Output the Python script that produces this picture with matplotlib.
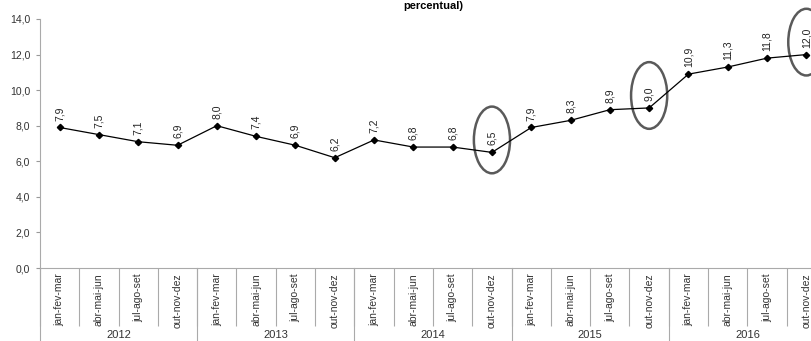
import matplotlib
matplotlib.use("Agg")
import matplotlib.pyplot as plt
from matplotlib.patches import Ellipse
from matplotlib.transforms import blended_transform_factory

years = ["2012", "2013", "2014", "2015", "2016"]
quarters = ["jan-fev-mar", "abr-mai-jun", "jul-ago-set", "out-nov-dez"]
values = [7.9, 7.5, 7.1, 6.9,
          8.0, 7.4, 6.9, 6.2,
          7.2, 6.8, 6.8, 6.5,
          7.9, 8.3, 8.9, 9.0,
          10.9, 11.3, 11.8, 12.0]
highlighted = [11, 15, 19]
title = "percentual)"

plt.rcParams['font.family'] = ['Liberation Sans', 'DejaVu Sans']

W, H = 812, 341
fig = plt.figure(figsize=(W / 100, H / 100), dpi=100)
ax = fig.add_axes([40 / W, 73 / H, 786 / W, 249 / H])

n = len(values)
x = list(range(n))
ax.plot(x, values, color="black", lw=0.9, marker="D", ms=3.2, mfc="black", mec="black")

for xi, v in zip(x, values):
    ax.annotate(f"{v:.1f}".replace(".", ","), (xi, v), xytext=(0, 5),
                textcoords="offset points", rotation=90, ha="center", va="bottom",
                fontsize=7.5, color="#222222")

for i in highlighted:
    ax.add_patch(Ellipse((i, values[i] + 0.7), width=0.92, height=3.75,
                         fill=False, edgecolor="#5a5a5a", lw=1.8, clip_on=False))

ax.set_xlim(-0.5, n - 0.5)
ax.set_ylim(0, 14)
yt = [0, 2, 4, 6, 8, 10, 12, 14]
ax.set_yticks(yt)
ax.set_yticklabels([f"{t:.1f}".replace(".", ",") for t in yt], fontsize=7.5, color="#333333")
ax.tick_params(axis="y", length=3, color="#999999", pad=4)

labels = [q for _ in years for q in quarters]
ax.set_xticks(x)
ax.set_xticklabels(labels, rotation=90, fontsize=7.5, color="#333333", va="top")
ax.tick_params(axis="x", which="major", length=0, pad=4)
ax.set_xticks([i - 0.5 for i in range(n + 1)], minor=True)
ax.tick_params(axis="x", which="minor", length=42, color="#aaaaaa", width=0.8)

for s in ["top", "right"]:
    ax.spines[s].set_visible(False)
for s in ["left", "bottom"]:
    ax.spines[s].set_color("#aaaaaa")
    ax.spines[s].set_linewidth(0.8)

trans = blended_transform_factory(ax.transData, ax.transAxes)
nq = len(quarters)
for k in range(len(years) + 1):
    xb = k * nq - 0.5
    ax.plot([xb, xb], [0, -0.35], transform=trans, color="#aaaaaa", lw=0.8, clip_on=False)
for k, yname in enumerate(years):
    ax.text(k * nq + (nq - 1) / 2, -0.25, yname, transform=trans, ha="center", va="top",
            fontsize=8, color="#333333")

fig.text(433 / W, 1 - 6 / H, title, ha="center", va="center", fontsize=8, fontweight="bold")

fig.savefig("out.png", dpi=100)
